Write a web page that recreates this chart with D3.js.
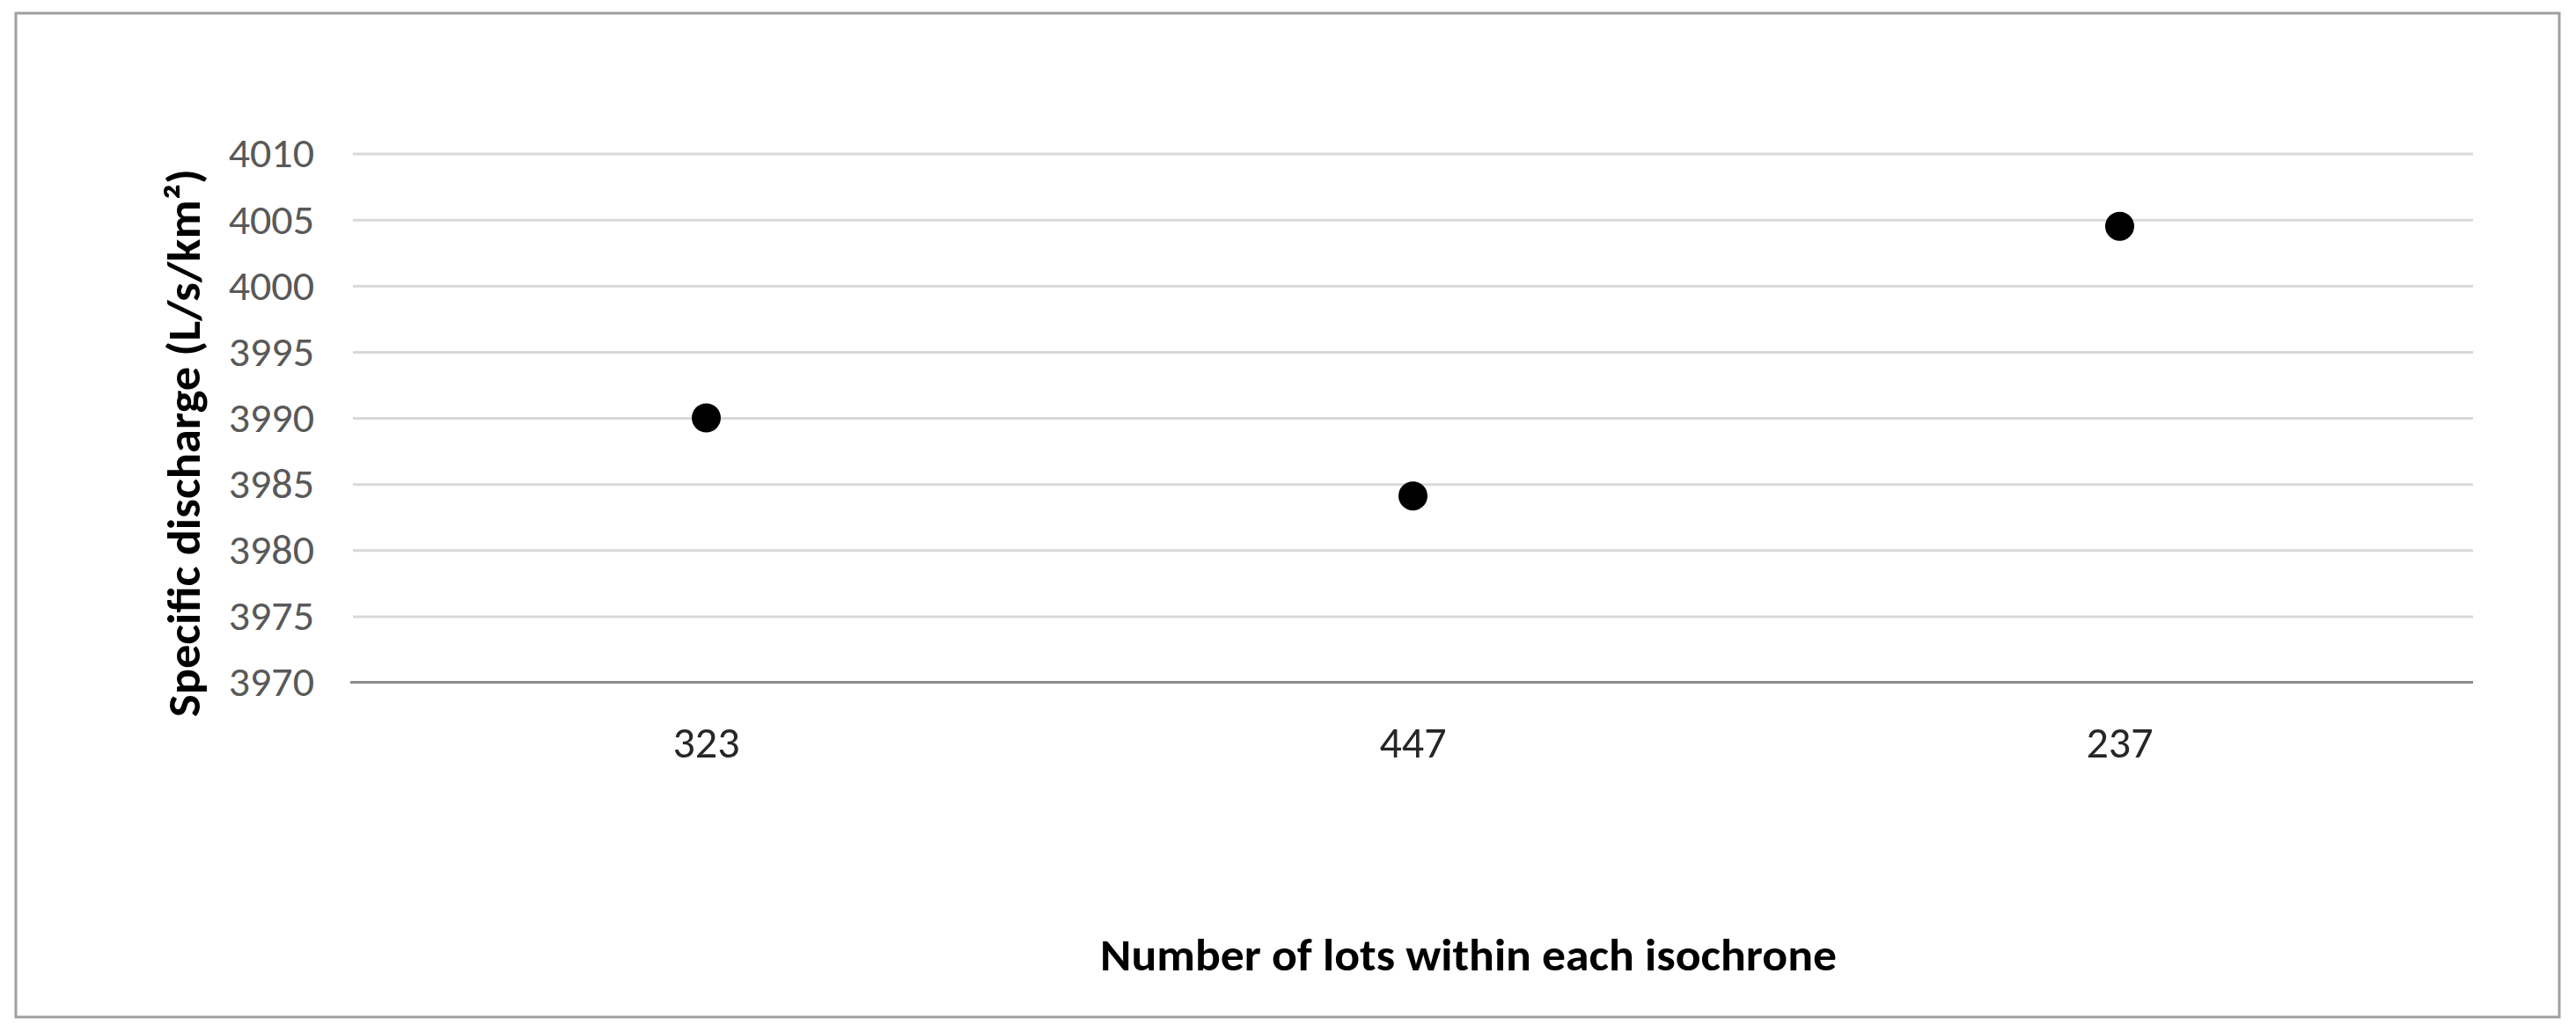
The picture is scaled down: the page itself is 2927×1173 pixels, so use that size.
<!DOCTYPE html>
<meta charset="utf-8">
<script src="https://d3js.org/d3.v7.min.js"></script>
<style>
body { margin: 0; background: #fff; }
text { font-family: Calibri, Carlito, "Open Sans", sans-serif; }
.grid line { stroke: #d9d9d9; stroke-width: 3; }
.grid text { fill: #595959; font-size: 48px; }
.xaxis text { fill: #262626; font-size: 50px; }
.xaxis path { stroke: #8c8c8c; stroke-width: 3; }
.title { font-weight: bold; fill: #000; }
</style>
<body>
<script>
// values
var categories = ["323", "447", "237"];
var discharge = [3990.0, 3984.1, 4004.5];
var yTicks = [3970, 3975, 3980, 3985, 3990, 3995, 4000, 4005, 4010];

var W = 2927, H = 1173;
var plotL = 401, plotR = 2810, plotT = 174.5, plotB = 775.5;

var svg = d3.select("body").append("svg")
    .attr("width", W)
    .attr("height", H);

// outer frame
svg.append("rect")
    .attr("x", 18).attr("y", 15)
    .attr("width", 2890).attr("height", 1141)
    .attr("fill", "#fff")
    .attr("stroke", "#a0a0a0")
    .attr("stroke-width", 3);

var x = d3.scaleBand().domain(categories).range([plotL, plotR]);
var y = d3.scaleLinear().domain([3970, 4010]).range([plotB, plotT]);

// gridlines + y labels
var gy = svg.append("g")
    .attr("class", "grid")
    .attr("transform", "translate(" + plotL + ",0)")
    .call(d3.axisLeft(y).tickValues(yTicks).tickFormat(d3.format("d"))
        .tickSize(-(plotR - plotL)).tickPadding(44));
gy.select(".domain").remove();
gy.selectAll("line").attr("x1", 0).attr("x2", plotR - plotL);
gy.selectAll(".tick").filter(function(d) { return d === 3970; }).select("line").remove();

// x axis
var gx = svg.append("g")
    .attr("class", "xaxis")
    .attr("transform", "translate(0," + plotB + ")")
    .call(d3.axisBottom(x).tickSize(0).tickSizeOuter(0));
gx.select(".domain").attr("d", "M" + (plotL - 3) + ",0H" + plotR);
gx.selectAll("text").attr("y", 85).attr("dy", null);

// points
svg.append("g").selectAll("circle")
    .data(discharge)
    .enter()
    .append("circle")
    .attr("cx", function(d, i) { return x(categories[i]) + x.bandwidth() / 2; })
    .attr("cy", function(d) { return y(d); })
    .attr("r", 16.5)
    .attr("fill", "#000");

// axis titles
svg.append("text")
    .attr("class", "title")
    .attr("transform", "translate(227,503.5) rotate(-90)")
    .attr("text-anchor", "middle")
    .style("font-size", "52px")
    .attr("textLength", 623)
    .attr("lengthAdjust", "spacingAndGlyphs")
    .text("Specific discharge  (L/s/km²)");

svg.append("text")
    .attr("class", "title")
    .attr("x", 1668.5).attr("y", 1103)
    .attr("text-anchor", "middle")
    .style("font-size", "51px")
    .attr("textLength", 837)
    .attr("lengthAdjust", "spacingAndGlyphs")
    .text("Number of lots within each isochrone");
</script>
</body>
</html>
